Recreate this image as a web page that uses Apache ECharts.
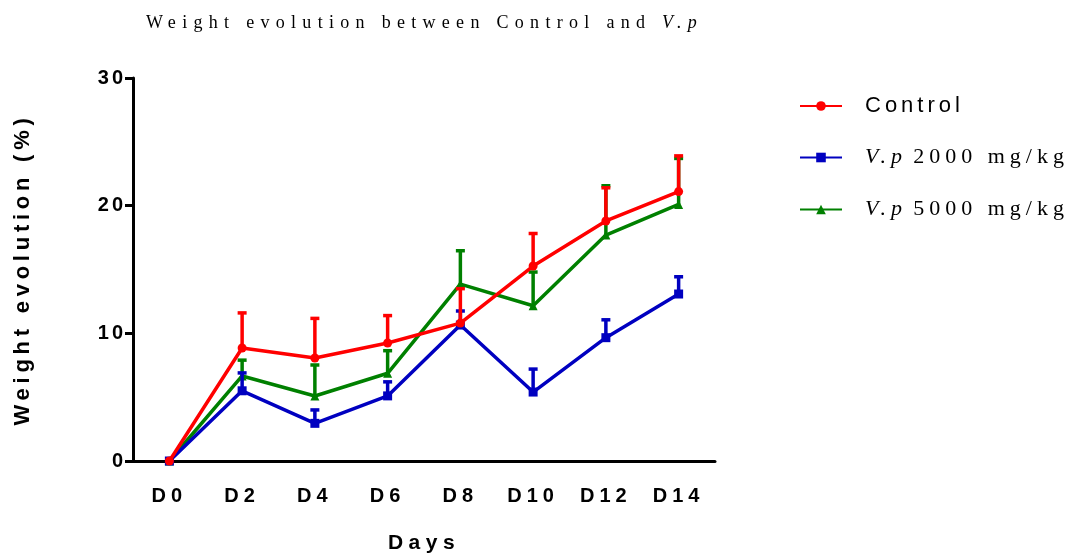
<!DOCTYPE html>
<html>
<head>
<meta charset="utf-8">
<script src="https://cdn.jsdelivr.net/npm/echarts@6/dist/echarts.min.js"></script>
<style>html,body{margin:0;padding:0;background:#fff}#c{width:1073px;height:556px}</style>
</head>
<body>
<div id="c"></div>
<script>
// Letter spacing support (Prism-style spaced text): family marker "lspN" or "lspN_M" => N.M px spacing
(function(){
  var P = CanvasRenderingContext2D.prototype;
  var d = Object.getOwnPropertyDescriptor(P, 'font');
  if (!d || !('letterSpacing' in P)) return;
  Object.defineProperty(P, 'font', {
    configurable: true,
    get: function(){ return d.get.call(this); },
    set: function(v){
      d.set.call(this, v);
      var m = /lsp(\d+)(?:_(\d+))?/.exec(v);
      this.letterSpacing = m ? (m[1] + (m[2] ? '.' + m[2] : '')) + 'px' : '0px';
    }
  });
})();

var days = ['D0','D2','D4','D6','D8','D10','D12','D14'];
var yTicks = [0, 10, 20, 30];
var control    = [0, 8.85, 8.07, 9.24, 10.8, 15.27, 18.8, 21.1];
var controlSem = [0, 2.75, 3.1, 2.15, 2.7, 2.55, 2.6, 2.8];
var vp2000     = [0, 5.5, 2.95, 5.1, 10.65, 5.4, 9.66, 13.08];
var vp2000Sem  = [0, 1.4, 1.05, 1.1, 1.1, 1.8, 1.4, 1.35];
var vp5000     = [0, 6.66, 5.09, 6.87, 13.86, 12.16, 17.7, 20.1];
var vp5000Sem  = [0, 1.24, 2.43, 1.77, 2.61, 2.64, 3.86, 3.6];
var names = ['Control', 'V.p 2000 mg/kg', 'V.p 5000 mg/kg'];
var colors = ['#ff0000', '#0000c0', '#008000'];

var SANS = 'Liberation Sans, lsp';
var SERIF = 'Liberation Serif, lsp';

function errSeries(mean, sem, color, z) {
  return {
    type: 'custom',
    z: z,
    silent: true,
    data: mean.map(function(m, i){ return [i, m, m + sem[i]]; }),
    renderItem: function(params, api){
      var i = api.value(0);
      var p0 = api.coord([i, api.value(1)]);
      var p1 = api.coord([i, api.value(2)]);
      if (Math.abs(p0[1] - p1[1]) < 0.5) return null;
      var st = {stroke: color, lineWidth: 3.5};
      return {type: 'group', children: [
        {type: 'line', shape: {x1: p0[0], y1: p0[1], x2: p1[0], y2: p1[1]}, style: st},
        {type: 'line', shape: {x1: p1[0] - 4.5, y1: p1[1], x2: p1[0] + 4.5, y2: p1[1]}, style: st}
      ]};
    }
  };
}

function lineSeries(name, data, color, symbol, size, z) {
  return {
    name: name, type: 'line', data: data, z: z,
    symbol: symbol, symbolSize: size, showSymbol: true,
    lineStyle: {color: color, width: 3.5},
    itemStyle: {color: color},
    emphasis: {disabled: true}
  };
}

var chart = echarts.init(document.getElementById('c'), null, {renderer: 'canvas'});
chart.setOption({
  animation: false,
  backgroundColor: '#ffffff',
  title: {
    left: 141, top: 6,
    text: 'Weight evolution between Control and {i|V.p}',
    textStyle: {
      fontFamily: SERIF + '6_3', fontSize: 18, fontWeight: 'normal', color: '#000',
      rich: {i: {fontFamily: SERIF + '6_3', fontSize: 18, fontStyle: 'italic', color: '#000'}}
    }
  },
  legend: {
    orient: 'vertical', left: 799, top: 93, itemGap: 25, padding: 0,
    itemWidth: 42, itemHeight: 12,
    data: names,
    formatter: function(n){
      if (n === 'Control') return '{c|' + n + '}';
      var parts = n.split(' ');
      return '{i|' + parts[0] + '} {s|' + parts.slice(1).join(' ') + '}';
    },
    textStyle: {
      color: '#000', fontSize: 22, padding: [0, 0, 0, 18],
      rich: {
        c: {fontFamily: SANS + '4', fontSize: 22, color: '#000'},
        i: {fontFamily: SERIF + '5', fontSize: 22, fontStyle: 'italic', color: '#000'},
        s: {fontFamily: SERIF + '5', fontSize: 22, color: '#000'}
      }
    }
  },
  grid: {left: 133, right: 358, top: 78, bottom: 95, containLabel: false, outerBoundsMode: 'none'},
  xAxis: {
    type: 'category', data: days, boundaryGap: true,
    name: 'Days', nameLocation: 'middle', nameGap: 69,
    nameTextStyle: {fontFamily: SANS + '5_5', fontSize: 21, fontWeight: 'bold', color: '#000'},
    axisLine: {lineStyle: {color: '#000', width: 3}},
    axisTick: {alignWithLabel: true, length: 8, lineStyle: {color: '#000', width: 3}},
    axisLabel: {margin: 23, fontFamily: SANS + '5', fontSize: 20, fontWeight: 'bold', color: '#000'},
    splitLine: {show: false}
  },
  yAxis: {
    type: 'value', min: 0, max: 30, interval: 10,
    name: 'Weight evolution (%)', nameLocation: 'middle', nameGap: 97,
    nameTextStyle: {fontFamily: SANS + '4_75', fontSize: 22, fontWeight: 'bold', color: '#000'},
    axisLine: {show: true, lineStyle: {color: '#000', width: 3}},
    axisTick: {show: true, length: 8, lineStyle: {color: '#000', width: 3}},
    axisLabel: {
      margin: 7, fontFamily: SANS + '3', fontSize: 20, fontWeight: 'bold', color: '#000',
      formatter: function(v){ return yTicks.indexOf(v) >= 0 ? String(v) : ''; }
    },
    splitLine: {show: false}
  },
  series: [
    errSeries(vp5000, vp5000Sem, colors[2], 2),
    errSeries(vp2000, vp2000Sem, colors[1], 3),
    errSeries(control, controlSem, colors[0], 4),
    lineSeries(names[2], vp5000, colors[2], 'triangle', 9, 2),
    lineSeries(names[1], vp2000, colors[1], 'rect', 9, 3),
    lineSeries(names[0], control, colors[0], 'circle', 9, 4)
  ]
});
</script>
</body>
</html>
